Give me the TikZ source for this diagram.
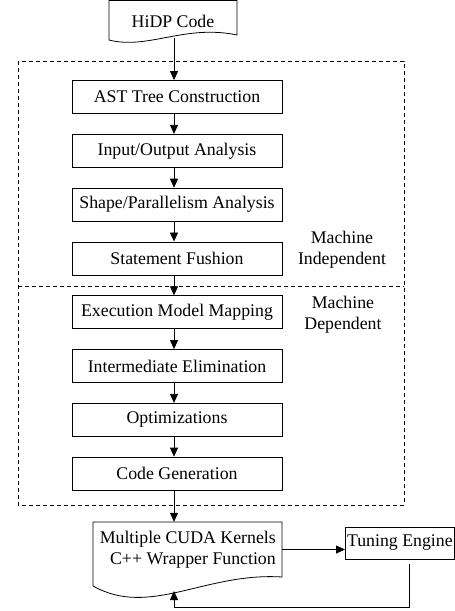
\documentclass[tikz,border=0pt]{standalone}
\usepackage{fontspec}
\setmainfont{Liberation Serif}
\usetikzlibrary{arrows.meta}
\begin{document}
\begin{tikzpicture}[x=1pt,y=-1pt,
  every node/.style={font=\fontsize{17.8}{21}\selectfont},
  stepbox/.style={draw, line width=0.8pt, minimum width=210pt, minimum height=33pt, inner sep=0pt},
  arr/.style={-{Triangle[length=9pt,width=8pt]}, line width=0.8pt},
  frame/.style={line width=0.7pt, dash pattern=on 4pt off 3pt},
  docline/.style={draw, line width=0.8pt},
  tag/.style={align=center, inner sep=0pt}
]
\useasboundingbox (0,0) rectangle (455,611);

% vertical spine used by the main flow arrows
\coordinate (spine) at (174,0);

% input document
\draw[docline] (109,40) -- (109,0.5) -- (237,0.5) -- (237,35)
  .. controls (185,24) and (148,50) .. (109,40);
\node[inner sep=0pt] (hidp) at (173,21) {HiDP Code};
\coordinate (hidpout) at (174,37.5);

% compiler frame, split into two parts
\draw[frame] (18,61) rectangle (404,505);
\draw[frame] (18,286) -- (404,286);

% compilation steps
\node[stepbox] (ast)   at (177,97.0)  {AST Tree Construction};
\node[stepbox] (io)    at (177,150.8) {Input/Output Analysis};
\node[stepbox] (shape) at (177,204.6) {Shape/Parallelism Analysis};
\node[stepbox] (stmt)  at (177,258.4) {Statement Fushion};
\node[stepbox] (exec)  at (177,312.2) {Execution Model Mapping};
\node[stepbox] (inter) at (177,366.0) {Intermediate Elimination};
\node[stepbox] (opt)   at (177,419.8) {Optimizations};
\node[stepbox] (code)  at (177,473.6) {Code Generation};

\node[tag] (indep) at (342,250) {Machine\\Independent};
\node[tag] (dep)   at (343,315) {Machine\\Dependent};

% output document
\draw[docline] (93,586) -- (93,522) -- (282,522) -- (282,577)
  .. controls (205,572) and (150,618) .. (93,586);
\node[inner sep=0pt, minimum width=189pt, minimum height=55pt] (cuda) at (187.5,549.5) {};
\node[inner sep=0pt, align=right, anchor=east] (cudatext) at (276,549.5)
  {Multiple CUDA Kernels\\C++ Wrapper Function};
\coordinate (cudatip) at (174,591);

% tuning engine
\node[draw, line width=0.8pt, anchor=west, inner sep=0pt, minimum width=109pt,
      minimum height=32pt] (tune) at (345,543) {Tuning Engine};

% flow arrows
\draw[arr] (hidpout) -- (ast.north -| spine);
\draw[arr] (ast.south -| spine)   -- (io.north -| spine);
\draw[arr] (io.south -| spine)    -- (shape.north -| spine);
\draw[arr] (shape.south -| spine) -- (stmt.north -| spine);
\draw[arr] (stmt.south -| spine)  -- (exec.north -| spine);
\draw[arr] (exec.south -| spine)  -- (inter.north -| spine);
\draw[arr] (inter.south -| spine) -- (opt.north -| spine);
\draw[arr] (opt.south -| spine)   -- (code.north -| spine);
\draw[arr] (code.south -| spine)  -- (cuda.north -| spine);

\draw[arr] (cuda.east) -- (tune.west |- cuda.east);

% feedback loop
\coordinate (fb) at (409,607);
\draw[arr, shorten <=5pt] (tune.south -| fb) -- (fb) -- (spine |- fb) -- (cudatip);
\end{tikzpicture}
\end{document}
